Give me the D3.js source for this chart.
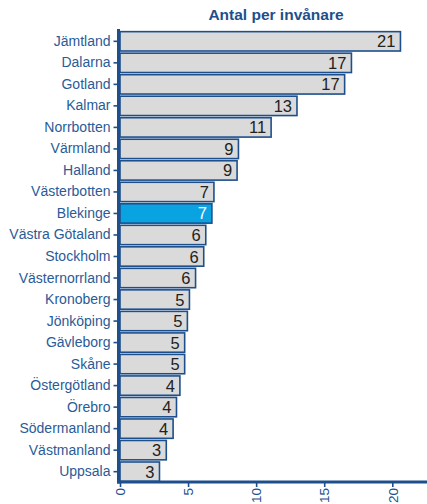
<!DOCTYPE html>
<html>
<head>
<meta charset="utf-8">
<script src="https://cdn.jsdelivr.net/npm/d3@7"></script>
<style>
  body { margin: 0; background: #fff; }
  svg { display: block; font-family: "Liberation Sans", Arial, sans-serif; }
</style>
</head>
<body>
<svg id="chart" width="427" height="504"></svg>
<script>
// counties, top to bottom
var counties = ['Jämtland', 'Dalarna', 'Gotland', 'Kalmar', 'Norrbotten', 'Värmland', 'Halland',
  'Västerbotten', 'Blekinge', 'Västra Götaland', 'Stockholm', 'Västernorrland', 'Kronoberg',
  'Jönköping', 'Gävleborg', 'Skåne', 'Östergötland', 'Örebro', 'Södermanland', 'Västmanland', 'Uppsala'];
// bar lengths
var values = [20.6, 17.0, 16.5, 13.0, 11.1, 8.7, 8.6, 6.9, 6.75, 6.3, 6.15, 5.55, 5.1, 4.95, 4.75, 4.75,
  4.4, 4.15, 3.9, 3.4, 2.9];
// printed numbers
var labels = ['21', '17', '17', '13', '11', '9', '9', '7', '7', '6', '6', '6', '5', '5', '5', '5',
  '4', '4', '4', '3', '3'];
var xTicks = [0, 5, 10, 15, 20];
var highlight = 'Blekinge';
var title = 'Antal per invånare';

var blue = '#1d4f8c';
var svg = d3.select('#chart');

var x = d3.scaleLinear().domain([0, 22.55]).range([120, 427]);
var y = d3.scaleBand().domain(counties).range([31, 482]).paddingInner(0.1).paddingOuter(0.03);

var rows = counties.map(function(c, i){ return {name: c, value: values[i], label: labels[i]}; });

// title
svg.append('text')
  .attr('x', 276).attr('y', 20)
  .attr('text-anchor', 'middle')
  .attr('font-size', 15.5).attr('font-weight', 'bold')
  .attr('fill', blue)
  .text(title);

// bars
svg.selectAll('rect.bar').data(rows).enter().append('rect')
  .attr('class', 'bar')
  .attr('x', x(0))
  .attr('y', function(d){ return y(d.name); })
  .attr('width', function(d){ return x(d.value) - x(0); })
  .attr('height', y.bandwidth())
  .attr('fill', function(d){ return d.name === highlight ? '#0aa3e2' : '#dadada'; })
  .attr('stroke', blue)
  .attr('stroke-width', 1.6);

// value labels
svg.selectAll('text.val').data(rows).enter().append('text')
  .attr('class', 'val')
  .attr('x', function(d){ return x(d.value) - 5; })
  .attr('y', function(d){ return y(d.name) + y.bandwidth() / 2 + 6; })
  .attr('text-anchor', 'end')
  .attr('font-size', 16.5)
  .attr('fill', function(d){ return d.name === highlight ? '#ffffff' : '#222'; })
  .text(function(d){ return d.label; });

// y axis
var yAxis = svg.append('g')
  .attr('transform', 'translate(118.5,0)')
  .call(d3.axisLeft(y).tickSize(5).tickPadding(3));
yAxis.select('.domain').remove();
yAxis.selectAll('.tick line').attr('stroke', blue).attr('stroke-width', 1.6);
yAxis.selectAll('.tick text').attr('fill', '#2a5b97').attr('font-size', 14)
  .attr('font-family', '"Liberation Sans", Arial, sans-serif');
svg.append('line')
  .attr('x1', 118.5).attr('x2', 118.5).attr('y1', 29).attr('y2', 483.5)
  .attr('stroke', blue).attr('stroke-width', 3);

// x axis
var xAxis = svg.append('g')
  .attr('transform', 'translate(0,482)')
  .call(d3.axisBottom(x).tickValues(xTicks).tickSize(5).tickPadding(4));
xAxis.select('.domain').remove();
xAxis.selectAll('.tick line').attr('stroke', blue).attr('stroke-width', 1.6);
xAxis.selectAll('.tick text')
  .attr('fill', blue).attr('font-size', 13.5)
  .attr('font-family', '"Liberation Sans", Arial, sans-serif')
  .attr('text-anchor', 'end')
  .attr('transform', 'rotate(-90)')
  .attr('x', -6).attr('y', 0).attr('dy', '0.35em');
svg.append('line')
  .attr('x1', 117).attr('x2', 427).attr('y1', 482).attr('y2', 482)
  .attr('stroke', blue).attr('stroke-width', 3);
</script>
</body>
</html>
